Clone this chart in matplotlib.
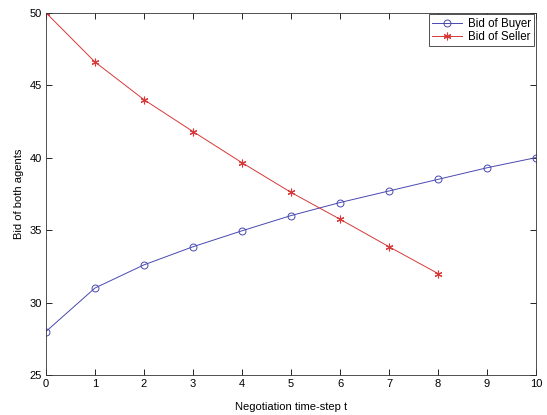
import matplotlib.pyplot as plt

plt.rcParams['font.family'] = ['Liberation Sans', 'DejaVu Sans']

t_buyer = [0, 1, 2, 3, 4, 5, 6, 7, 8, 9, 10]
bid_buyer = [28.0, 31.0, 32.6, 33.85, 34.95, 36.0, 36.9, 37.7, 38.5, 39.3, 40.0]
t_seller = [0, 1, 2, 3, 4, 5, 6, 7, 8]
bid_seller = [50.0, 46.6, 44.0, 41.8, 39.65, 37.6, 35.75, 33.85, 32.0]

blue = '#4848b0'
red = '#d83838'

fig = plt.figure(figsize=(5.47, 4.15), dpi=100)
ax = fig.add_axes([0.084, 0.0964, 0.896, 0.873])

ax.plot(t_buyer, bid_buyer, color=blue, lw=0.7, marker='o', ms=5,
        mfc='none', mec=blue, mew=0.7, label='Bid of Buyer')
# MATLAB style asterisk marker
ax.plot(t_seller, bid_seller, color=red, lw=0.7, marker=(6, 2, 0), ms=5.5,
        mec=red, mew=0.8, label='Bid of Seller')

ax.set_xlim(0, 10)
ax.set_ylim(25, 50)
ax.set_xticks(range(0, 11))
ax.set_yticks([25, 30, 35, 40, 45, 50])
ax.tick_params(direction='in', top=True, right=True, labelsize=8, length=4,
               width=0.6, pad=3)
for s in ax.spines.values():
    s.set_linewidth(0.6)
    s.set_color('#333333')

ax.set_xlabel('Negotiation time-step t', fontsize=8, labelpad=9)
ax.set_ylabel('Bid of both agents', fontsize=8, labelpad=4)

leg = ax.legend(loc='upper right', fontsize=8.3, fancybox=False, framealpha=1,
                edgecolor='#333333', handlelength=2.6, handletextpad=0.5,
                borderpad=0.3, labelspacing=0.1, borderaxespad=0.15)
leg.get_frame().set_linewidth(0.6)

fig.savefig('out.png', dpi=100)
